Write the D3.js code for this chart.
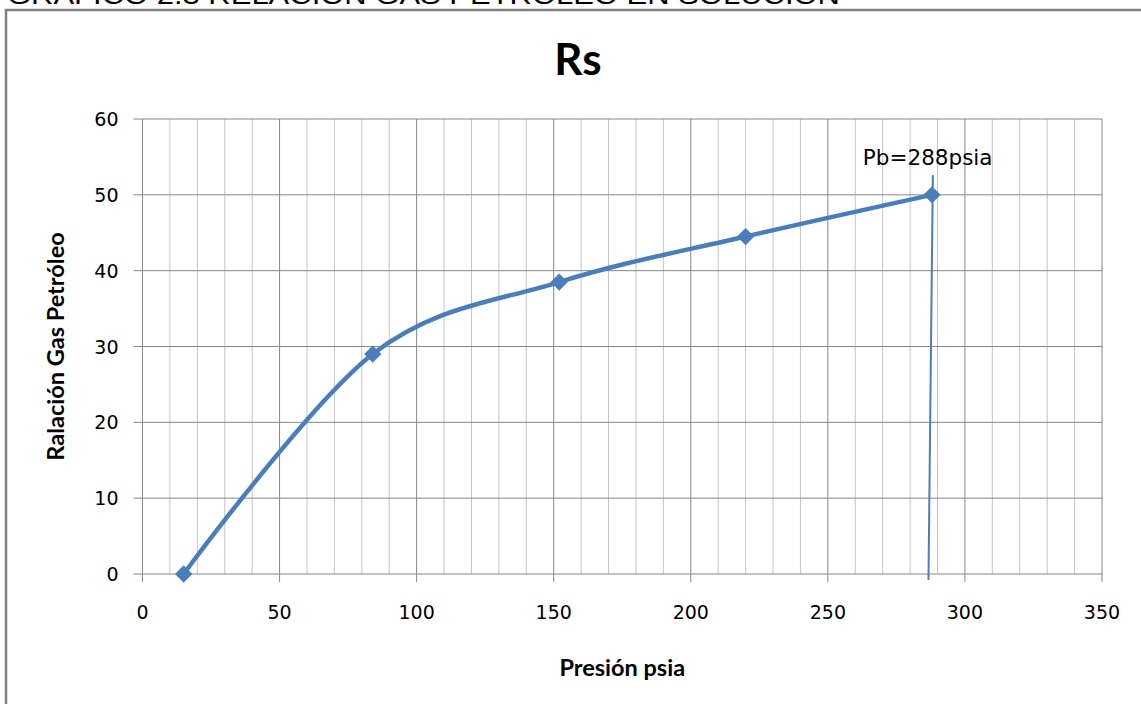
<!DOCTYPE html>
<html>
<head>
<meta charset="utf-8">
<script src="https://cdn.jsdelivr.net/npm/d3@7"></script>
<style>
  body { margin: 0; background: #fff; }
  svg { display: block; }
</style>
</head>
<body>
<svg class="chart"></svg>
<script>
// presion (psia) vs relacion gas petroleo en solucion
const pressure = [15, 84, 152, 220, 288];
const rs = [0, 29, 38.5, 44.5, 50];
const xTicks = [0, 50, 100, 150, 200, 250, 300, 350];
const yTicks = [0, 10, 20, 30, 40, 50, 60];
// hand drawn bubble point marker
const pbX = [288.3, 286.7];
const pbY = [52.6, -0.8];
const pbLabel = 'Pb=288psia';

window.onload = function() {
    let margin = {top: 119, right: 39, bottom: 130, left: 142.5}

    let width = 1102 - margin.left,
        height = 574 - margin.top,
        outerWidth = 1141,
        outerHeight = 704,
        blue = '#4a7ebb',
        major = '#868686',
        minor = '#c4c4c4';

    let x = d3.scaleLinear().domain([0, 350]).range([0, width])
    let y = d3.scaleLinear().domain([0, 60]).range([height, 0])

    let svg = d3.select('.chart')
        .attr('width', outerWidth)
        .attr('height', outerHeight)

    // header, cut at the top of the page like the scan
    svg.append('text')
        .attr('x', 7)
        .attr('y', 4)
        .attr('textLength', 833)
        .attr('lengthAdjust', 'spacingAndGlyphs')
        .style('font-family', 'Liberation Sans, Arial, sans-serif')
        .style('font-size', '26px')
        .text('GRÁFICO 2.3 RELACIÓN GAS PETRÓLEO EN SOLUCIÓN')

    // chart frame
    svg.append('rect')
        .attr('x', 6)
        .attr('y', 10)
        .attr('width', 1150)
        .attr('height', 720)
        .attr('fill', 'none')
        .attr('stroke', '#808080')
        .attr('stroke-width', 2.5)

    let g = svg.append('g')
        .attr('transform', `translate(${margin.left},${margin.top})`)

    // minor vertical grid
    g.selectAll('.minor')
        .data(x.ticks(35).filter((d) => d % 50 !== 0))
    .enter().append('line')
        .attr('class', 'minor')
        .attr('x1', (d) => x(d)).attr('x2', (d) => x(d))
        .attr('y1', 0).attr('y2', height)
        .attr('stroke', minor)
        .attr('stroke-width', 1)

    // major vertical grid + tick marks
    g.selectAll('.vmajor')
        .data(xTicks)
    .enter().append('line')
        .attr('class', 'vmajor')
        .attr('x1', (d) => x(d)).attr('x2', (d) => x(d))
        .attr('y1', 0).attr('y2', height + 8)
        .attr('stroke', major)
        .attr('stroke-width', 1)

    // horizontal grid + tick marks
    g.selectAll('.hmajor')
        .data(yTicks)
    .enter().append('line')
        .attr('class', 'hmajor')
        .attr('x1', -9).attr('x2', width)
        .attr('y1', (d) => y(d)).attr('y2', (d) => y(d))
        .attr('stroke', major)
        .attr('stroke-width', 1)

    g.selectAll('.xlab')
        .data(xTicks)
    .enter().append('text')
        .attr('class', 'xlab')
        .attr('x', (d) => x(d))
        .attr('y', height + 45)
        .attr('text-anchor', 'middle')
        .style('font-family', 'DejaVu Sans, sans-serif')
        .style('font-size', '19px')
        .text((d) => d)

    g.selectAll('.ylab')
        .data(yTicks)
    .enter().append('text')
        .attr('class', 'ylab')
        .attr('x', -24)
        .attr('y', (d) => y(d) + 7)
        .attr('text-anchor', 'end')
        .style('font-family', 'DejaVu Sans, sans-serif')
        .style('font-size', '19px')
        .text((d) => d)

    let points = pressure.map((p, i) => [p, rs[i]])

    let line = d3.line()
        .x((d) => x(d[0]))
        .y((d) => y(d[1]))
        .curve(d3.curveCardinal.tension(0))

    g.append('path')
        .datum(points)
        .attr('d', line)
        .attr('fill', 'none')
        .attr('stroke', blue)
        .attr('stroke-width', 4.5)

    // Pb vertical line
    g.append('line')
        .attr('x1', x(pbX[0])).attr('y1', y(pbY[0]))
        .attr('x2', x(pbX[1])).attr('y2', y(pbY[1]))
        .attr('stroke', blue)
        .attr('stroke-width', 2)

    g.selectAll('.point')
        .data(points)
    .enter().append('path')
        .attr('class', 'point')
        .attr('d', d3.symbol().type(d3.symbolSquare).size(150))
        .attr('transform', (d) => `translate(${x(d[0])},${y(d[1])}) rotate(45)`)
        .attr('fill', blue)

    g.append('text')
        .attr('x', x(pbX[0]) - 70)
        .attr('y', y(pbY[0]) - 10)
        .style('font-family', 'DejaVu Sans, sans-serif')
        .style('font-size', '21.5px')
        .text(pbLabel)

    // titles
    svg.append('text')
        .attr('x', 578)
        .attr('y', 75)
        .attr('text-anchor', 'middle')
        .style('font-family', 'Lato, sans-serif')
        .style('font-weight', 'bold')
        .style('font-size', '44px')
        .text('Rs')

    svg.append('text')
        .attr('x', margin.left + width / 2)
        .attr('y', 676)
        .attr('text-anchor', 'middle')
        .style('font-family', 'Lato, sans-serif')
        .style('font-weight', 'bold')
        .style('font-size', '23.5px')
        .text('Presión psia')

    svg.append('text')
        .attr('transform', `translate(64,${margin.top + height / 2}) rotate(-90)`)
        .attr('text-anchor', 'middle')
        .style('font-family', 'Lato, sans-serif')
        .style('font-weight', 'bold')
        .style('font-size', '23.5px')
        .text('Ralación Gas Petróleo')
}
</script>
</body>
</html>
